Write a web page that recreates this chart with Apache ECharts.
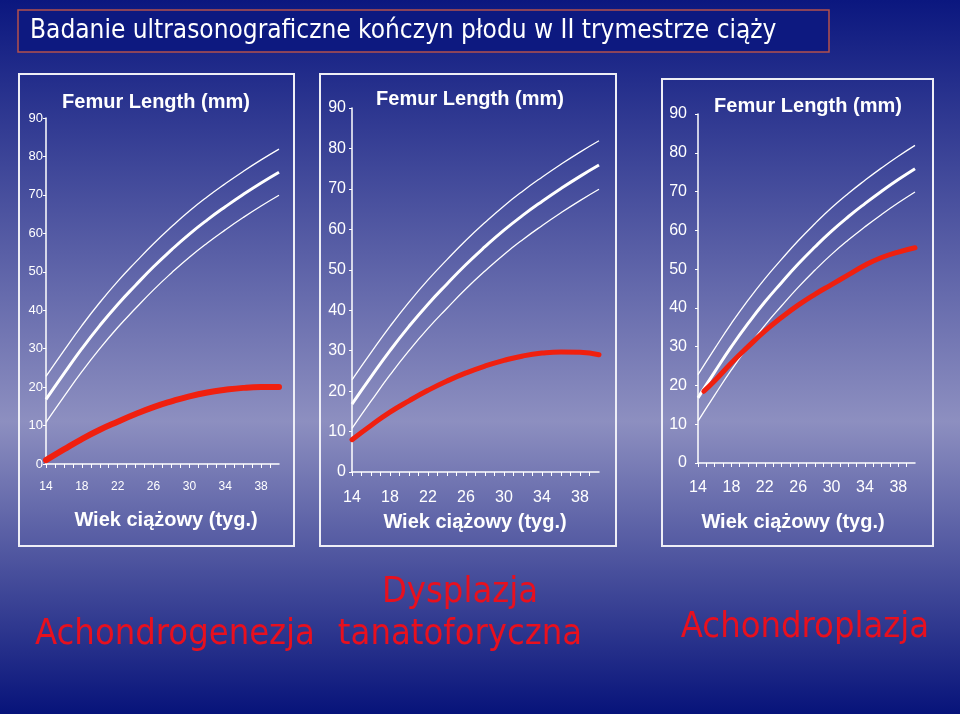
<!DOCTYPE html>
<html>
<head>
<meta charset="utf-8">
<script src="https://cdn.jsdelivr.net/npm/echarts@6/dist/echarts.min.js"></script>
<style>
html,body{margin:0;padding:0;background:#0b177f;}
#c{width:960px;height:714px;}
</style>
</head>
<body>
<div id="c"></div>
<script>
// ---- data ----
var weeks = [14, 16, 18, 20, 22, 24, 26, 28, 30, 32, 34, 36, 38, 40];
var xTickLabels = [14, 18, 22, 26, 30, 34, 38];
var yTickLabels = [0, 10, 20, 30, 40, 50, 60, 70, 80, 90];
var normUpper  = [22.8, 29.5, 36, 42, 47.5, 52.5, 57.3, 61.7, 65.8, 69.5, 72.9, 76.1, 79.1, 81.9];
var normMean   = [16.8, 23.5, 30, 36, 41.5, 46.5, 51.3, 55.7, 59.8, 63.5, 66.9, 70.1, 73.1, 75.9];
var normLower  = [10.8, 17.5, 24, 30, 35.5, 40.5, 45.3, 49.7, 53.8, 57.5, 60.9, 64.1, 67.1, 69.9];
var achondrogenezja = [1, 3.8, 6.5, 8.9, 11, 13, 14.8, 16.3, 17.6, 18.6, 19.3, 19.8, 20, 20];
var tanatoforyczna  = [8, 11.5, 14.8, 17.6, 20.2, 22.5, 24.5, 26.2, 27.6, 28.7, 29.4, 29.7, 29.6, 29.0];
var weeksAchondroplazja = [14.7, 16, 18, 20, 22, 24, 26, 28, 30, 32, 34, 36, 38, 40];
var achondroplazja  = [18.5, 21.2, 25.8, 30, 34, 37.5, 40.7, 43.5, 46, 48.5, 51, 53, 54.4, 55.5];
var panelTitle = 'Femur Length (mm)';
var axisTitle = 'Wiek ciążowy (tyg.)';
var mainTitle = 'Badanie ultrasonograficzne kończyn płodu w II trymestrze ciąży';
var diseaseLabels = ['Achondrogenezja', 'Dysplazja\ntanatoforyczna', 'Achondroplazja'];

function pairs(xs, ys){ return xs.map(function(x,i){ return [x, ys[i]]; }); }

var chart = echarts.init(document.getElementById('c'), null, {renderer:'canvas'});

var panels = [
  {grid:{left:46, top:118, width:233, height:346}, yFont:13, yMargin:3, xFont:12, xMargin:17,
   box:[19,74,275,472], title:[156,102], axisT:[166,520], red:pairs(weeks, achondrogenezja), redW:6},
  {grid:{left:352, top:108, width:247, height:364}, yFont:16, yMargin:6, xFont:16, xMargin:18,
   box:[320,74,296,472], title:[470,99], axisT:[475,522], red:pairs(weeks, tanatoforyczna), redW:5},
  {grid:{left:698, top:114, width:217, height:349}, yFont:16, yMargin:11, xFont:16, xMargin:17,
   box:[662,79,271,467], title:[808,106], axisT:[793,522], red:pairs(weeksAchondroplazja, achondroplazja), redW:5}
];

var ARIAL = '"Liberation Sans", Arial, sans-serif';
var NARROW = '"DejaVu Sans Condensed", "DejaVu Sans", sans-serif';

var grids = [], xAxes = [], yAxes = [], series = [], graphics = [];

panels.forEach(function(p, i){
  grids.push(p.grid);
  xAxes.push({
    type:'value', gridIndex:i, min:14, max:40, interval:1,
    axisLine:{show:true, lineStyle:{color:'#ffffff', width:1.5}},
    axisTick:{show:true, length:4, lineStyle:{color:'#ffffff', width:1}},
    splitLine:{show:false},
    axisLabel:{color:'#ffffff', fontSize:p.xFont, fontFamily:ARIAL, margin:p.xMargin,
      showMaxLabel:false,
      formatter:function(v){ return xTickLabels.indexOf(v) >= 0 ? String(v) : ''; }}
  });
  yAxes.push({
    type:'value', gridIndex:i, min:0, max:90, interval:10,
    axisLine:{show:true, lineStyle:{color:'#ffffff', width:1.5}},
    axisTick:{show:true, length:3, lineStyle:{color:'#ffffff', width:1}},
    splitLine:{show:false},
    axisLabel:{color:'#ffffff', fontSize:p.yFont, fontFamily:ARIAL, margin:p.yMargin,
      formatter:function(v){ return yTickLabels.indexOf(v) >= 0 ? String(v) : ''; }}
  });
  var base = {type:'line', xAxisIndex:i, yAxisIndex:i, smooth:true, showSymbol:false, symbol:'none', silent:true, animation:false};
  series.push(Object.assign({}, base, {data:pairs(weeks, normUpper), lineStyle:{color:'#ffffff', width:1.3}}));
  series.push(Object.assign({}, base, {data:pairs(weeks, normLower), lineStyle:{color:'#ffffff', width:1.3}}));
  series.push(Object.assign({}, base, {data:pairs(weeks, normMean), lineStyle:{color:'#ffffff', width:3}}));
  series.push(Object.assign({}, base, {data:p.red, lineStyle:{color:'#f0200f', width:p.redW, cap:'round'}, z:5}));

  graphics.push({type:'rect', shape:{x:p.box[0], y:p.box[1], width:p.box[2], height:p.box[3]},
    style:{fill:'none', stroke:'#eeeef6', lineWidth:2}, silent:true});
  graphics.push({type:'text', x:p.title[0], y:p.title[1],
    style:{text:panelTitle, fill:'#ffffff', font:'bold 20px ' + ARIAL, textAlign:'center', textVerticalAlign:'middle'}});
  graphics.push({type:'text', x:p.axisT[0], y:p.axisT[1],
    style:{text:axisTitle, fill:'#ffffff', font:'bold 20px ' + ARIAL, textAlign:'center', textVerticalAlign:'middle'}});
});

// main title box
graphics.push({type:'rect', shape:{x:18, y:10, width:811, height:42},
  style:{fill:'#0d1980', stroke:'#b4504c', lineWidth:1.5}, silent:true});
graphics.push({type:'text', x:30, y:31,
  style:{text:mainTitle, fill:'#ffffff', font:'26px ' + NARROW, textAlign:'left', textVerticalAlign:'middle'}});

// disease labels
graphics.push({type:'text', x:175, y:635,
  style:{text:diseaseLabels[0], fill:'#e8101e', font:'36px ' + NARROW, textAlign:'center', textVerticalAlign:'middle'}});
graphics.push({type:'text', x:460, y:614,
  style:{text:diseaseLabels[1], fill:'#e8101e', font:'36px ' + NARROW, textAlign:'center', textVerticalAlign:'middle', lineHeight:42}});
graphics.push({type:'text', x:805, y:628,
  style:{text:diseaseLabels[2], fill:'#e8101e', font:'36px ' + NARROW, textAlign:'center', textVerticalAlign:'middle'}});

chart.setOption({
  animation:false,
  backgroundColor:{type:'linear', x:0, y:0, x2:0, y2:1,
    colorStops:[{offset:0, color:'#0b177f'}, {offset:0.59, color:'#8d8fc0'}, {offset:1, color:'#07137a'}]},
  grid:grids, xAxis:xAxes, yAxis:yAxes, series:series, graphic:graphics
});
</script>
</body>
</html>
